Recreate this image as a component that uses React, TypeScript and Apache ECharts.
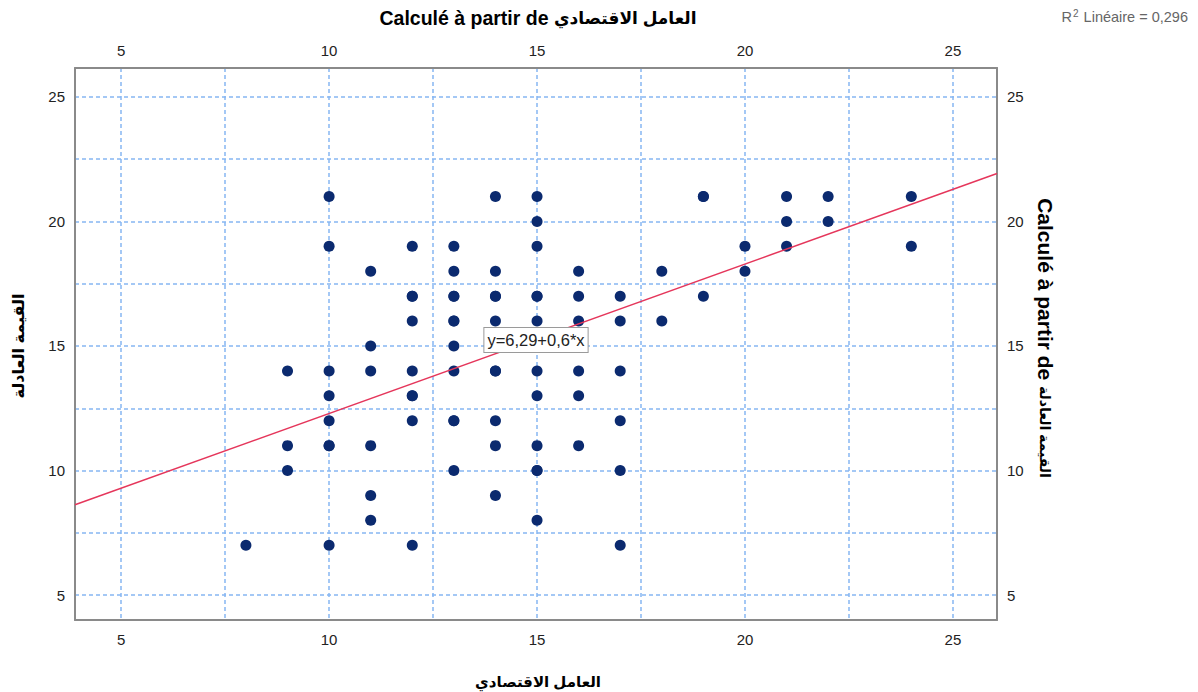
import React, { useEffect, useRef } from "react";
import * as echarts from "echarts";

// Observations: [العامل الاقتصادي, القيمة العادلة]
const economicFactor: number[] = [
  8, 9, 9, 9,
  10, 10, 10, 10, 10, 10, 10, 10,
  11, 11, 11, 11, 11, 11,
  12, 12, 12, 12, 12, 12, 12, 12, 12,
  13, 13, 13, 13, 13, 13, 13, 13, 13, 13, 13,
  14, 14, 14, 14, 14, 14, 14, 14, 14, 14,
  15, 15, 15, 15, 15, 15, 15, 15, 15, 15, 15, 15,
  16, 16, 16, 16, 16, 16,
  17, 17, 17, 17, 17, 17,
  18, 18,
  19, 19, 19,
  20, 20,
  21, 21, 21,
  22, 22,
  24, 24,
];
const fairValue: number[] = [
  7, 14, 11, 10,
  21, 19, 14, 13, 12, 11, 11, 7,
  18, 15, 14, 11, 9, 8,
  19, 17, 17, 16, 14, 13, 13, 12, 7,
  19, 18, 17, 17, 16, 16, 15, 14, 12, 12, 10,
  21, 18, 17, 17, 16, 14, 14, 12, 11, 9,
  21, 20, 19, 17, 17, 16, 14, 13, 11, 10, 10, 8,
  18, 17, 16, 14, 13, 11,
  17, 16, 14, 12, 10, 7,
  18, 16,
  21, 21, 17,
  19, 18,
  21, 20, 19,
  21, 20,
  21, 19,
];

// Linear fit reported with the chart
const fitIntercept = 6.29;
const fitSlope = 0.6;
const rSquaredLabel = "0,296";
const equationLabel = "y=6,29+0,6*x";

// Axis ranges and ticks
const xRange: [number, number] = [3.89, 26.06];
const yRange: [number, number] = [4.0, 26.16];
const labelTicks: number[] = [5, 10, 15, 20, 25];
const gridTicks: number[] = [5, 7.5, 10, 12.5, 15, 17.5, 20, 22.5, 25];

const xTitle = "العامل الاقتصادي";
const yTitle = "القيمة العادلة";
const computedPrefix = "Calculé à partir de ";

const FONT = "'Liberation Sans', Arial, 'DejaVu Sans', sans-serif";

export default function App() {
  const ref = useRef<HTMLDivElement>(null);

  useEffect(() => {
    if (!ref.current) return;
    const chart = echarts.init(ref.current, undefined, { renderer: "svg" });

    const points = economicFactor.map((x, i) => [x, fairValue[i]]);
    const fitLine = xRange.map((x) => [x, fitIntercept + fitSlope * x]);

    const gridLine = {
      show: true,
      lineStyle: { color: "#86b6f2", type: [4, 3] as any, width: 1.5 },
    };
    const frameLine = { show: true, lineStyle: { color: "#8a8a8a", width: 2 } };
    const labelStyle = { color: "#222", fontSize: 15, fontFamily: FONT };

    const makeX = (position: "top" | "bottom", withGrid: boolean, margin: number) => ({
      type: "value" as const,
      position,
      min: xRange[0],
      max: xRange[1],
      axisLine: { ...frameLine, onZero: false },
      axisTick: { show: false, customValues: gridTicks },
      axisLabel: { ...labelStyle, customValues: labelTicks, margin },
      splitLine: withGrid ? gridLine : { show: false },
    });
    const makeY = (position: "left" | "right", withGrid: boolean, margin: number) => ({
      type: "value" as const,
      position,
      min: yRange[0],
      max: yRange[1],
      axisLine: { ...frameLine, onZero: false },
      axisTick: { show: false, customValues: gridTicks },
      axisLabel: { ...labelStyle, customValues: labelTicks, margin },
      splitLine: withGrid ? gridLine : { show: false },
    });

    chart.setOption({
      animation: false,
      backgroundColor: "#ffffff",
      grid: { left: 75, top: 68, right: 201, bottom: 72, containLabel: false },
      xAxis: [makeX("bottom", true, 12), makeX("top", false, 10)],
      yAxis: [makeY("left", true, 10), makeY("right", false, 10)],
      series: [
        {
          type: "scatter",
          xAxisIndex: 0,
          yAxisIndex: 0,
          data: points,
          symbol: "circle",
          symbolSize: 11,
          itemStyle: { color: "#0b2a6f", opacity: 1 },
          z: 3,
        },
        {
          type: "line",
          xAxisIndex: 0,
          yAxisIndex: 0,
          data: fitLine,
          showSymbol: false,
          symbol: "none",
          lineStyle: { color: "#e5365b", width: 1.5 },
          z: 4,
        },
      ],
      graphic: [
        {
          type: "text",
          x: 538,
          y: 18,
          style: {
            text: "{lat|" + computedPrefix + "}{ar|" + xTitle + "}",
            fill: "#000",
            align: "center",
            verticalAlign: "middle",
            rich: {
              lat: { font: `bold 19.5px ${FONT}`, fill: "#000" },
              ar: { font: `bold 17px ${FONT}`, fill: "#000" },
            },
          } as any,
        },
        {
          type: "text",
          x: 538,
          y: 681,
          style: {
            text: xTitle,
            font: `bold 15px ${FONT}`,
            fill: "#000",
            align: "center",
            verticalAlign: "middle",
          },
        },
        {
          type: "text",
          x: 18,
          y: 346,
          rotation: Math.PI / 2,
          style: {
            text: yTitle,
            font: `bold 16px ${FONT}`,
            fill: "#000",
            align: "center",
            verticalAlign: "middle",
          },
        },
        {
          type: "text",
          x: 1045,
          y: 338,
          rotation: -Math.PI / 2,
          style: {
            text: "{lat|" + computedPrefix + "}{ar|" + yTitle + "}",
            fill: "#000",
            align: "center",
            verticalAlign: "middle",
            rich: {
              lat: { font: `bold 21px ${FONT}`, fill: "#000" },
              ar: { font: `bold 14px ${FONT}`, fill: "#000" },
            },
          } as any,
        },
        {
          type: "text",
          x: 1188,
          y: 17,
          style: {
            text: "{base|R}{sup|2}{base| Linéaire = " + rSquaredLabel + "}",
            fill: "#666",
            align: "right",
            verticalAlign: "middle",
            rich: {
              base: { font: `14.5px ${FONT}`, fill: "#666" },
              sup: { font: `10px ${FONT}`, fill: "#666", padding: [0, 1, 8, 1] },
            },
          } as any,
        },
        {
          type: "text",
          x: 536,
          y: 340,
          z: 10,
          style: {
            text: equationLabel,
            font: `16.5px ${FONT}`,
            fill: "#222",
            align: "center",
            verticalAlign: "middle",
            backgroundColor: "#ffffff",
            borderColor: "#9a9a9a",
            borderWidth: 1,
            padding: [4, 3, 3, 3],
          } as any,
        },
      ],
    });

    return () => chart.dispose();
  }, []);

  return (
    <div
      ref={ref}
      style={{ position: "absolute", left: 0, top: 0, width: 1198, height: 692 }}
    />
  );
}
